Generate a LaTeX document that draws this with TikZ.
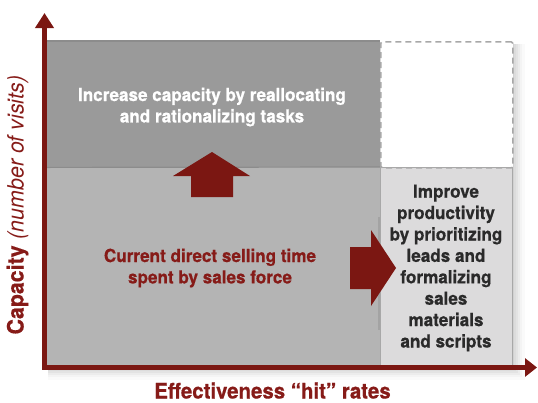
\documentclass[tikz,border=0pt]{standalone}
\usepackage{fontspec}
\setmainfont{TeX Gyre Heros}
% condensed sans for all labels
\newfontfamily\cnd[FakeStretch=0.95, BoldFeatures={FakeBold=0.6}]{TeX Gyre Heros}
\usetikzlibrary{arrows.meta}

\definecolor{axisred}{HTML}{7B1712}
\definecolor{textred}{HTML}{861B18}
\definecolor{boxdark}{HTML}{9A9A9A}
\definecolor{boxmid}{HTML}{B4B4B4}
\definecolor{boxlight}{HTML}{DCDBDC}
\definecolor{edgegray}{HTML}{8C8C8C}
\definecolor{dashgray}{HTML}{A8A8A8}
\definecolor{inktext}{HTML}{2A2A2A}

\tikzset{
  region/.style={draw=none, inner sep=0pt, anchor=north west},
  label/.style={font=\cnd\bfseries\fontsize{18}{21.4}\selectfont, align=center, inner sep=0pt},
  axislabel/.style={font=\cnd\fontsize{21.5}{24}\selectfont, text=textred, inner sep=0pt},
  blockarrow/.style={fill=axisred, draw=none},
}

\begin{document}
\begin{tikzpicture}[x=1pt,y=-1pt]
\useasboundingbox (0,0) rectangle (538,402);

% soft shadow behind the grid
\foreach \d/\o in {2/0.05,4/0.04,6/0.035,8/0.03,10/0.025,13/0.02}{
  \fill[black,opacity=\o] (48,44) rectangle (512+\d,367+\d);
}

% the four regions
\node[region, fill=boxdark, minimum width=333pt, minimum height=126pt] (increase) at (47,41) {};
\node[region, fill=boxmid, minimum width=333pt, minimum height=199pt] (current) at (47,167) {};
\node[region, fill=boxlight, draw=dashgray, line width=1pt, minimum width=132pt, minimum height=199pt] (improve) at (380,167) {};
\node[region, fill=white, draw=dashgray, line width=1.6pt, dash pattern=on 6pt off 4pt, rounded corners=1.5pt, minimum width=132pt, minimum height=126pt] (future) at (380,41) {};

% edges between the regions
\draw[edgegray, line width=1.2pt] (increase.north west) -- (increase.north east);
\draw[edgegray, line width=1.2pt] (increase.south west) -- (improve.north west);
\draw[dashgray, line width=1pt] (improve.north west) -- (improve.north east);
\draw[edgegray!80, line width=2pt] (379,217) -- (379,330);

% block arrows
\fill[blockarrow] (212,152) -- (250,176) -- (233,176) -- (233,197) -- (191,197) -- (191,176) -- (173,176) -- cycle;
\fill[blockarrow] (396,268) -- (371,230) -- (371,247) -- (350,247) -- (350,289) -- (371,289) -- (371,306) -- cycle;

% texts in the regions
\node[label, text=white] (increaseText) at (212,107) {Increase capacity by reallocating\\and rationalizing tasks};
\node[label, text=textred] (currentText) at (210,268) {Current direct selling time\\spent by sales force};
\node[label, text=inktext] (improveText) at (446,268) {Improve\\productivity\\by prioritizing\\leads and\\formalizing\\sales\\materials\\and scripts};

% axes
\coordinate (ytip) at (44.5,13);
\coordinate (origin) at (44.5,367.5);
\coordinate (xtip) at (537,367.5);
\draw[axisred, line width=4.5pt, line join=miter, {Triangle[length=15pt,width=18pt]}-{Triangle[length=12pt,width=18pt]}] (ytip) -- (origin) -- (xtip);

% axis titles
\node[axislabel, anchor=base] (xlabel) at (272.5,398.5) {\bfseries Effectiveness “hit” rates};
\node[axislabel, anchor=base, rotate=90, font=\cnd\fontsize{22.5}{24}\selectfont] (ylabel) at (23.5,205) {\bfseries Capacity\mdseries\itshape\ (number of visits)};
\end{tikzpicture}
\end{document}
